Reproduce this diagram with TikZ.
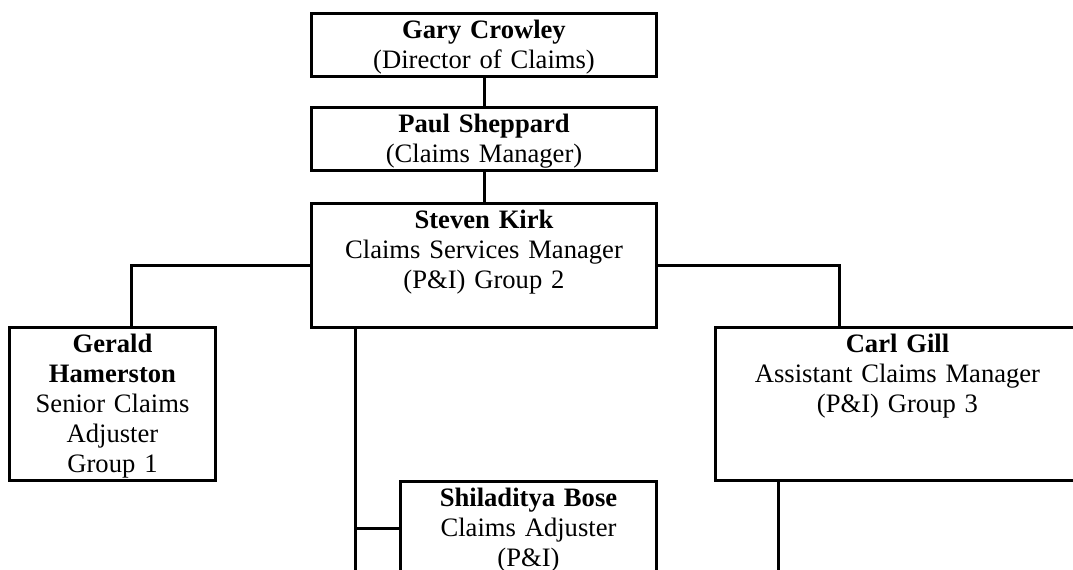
\documentclass[tikz,border=0pt]{standalone}
\usepackage{fontspec}
\setmainfont{Liberation Serif}[WordSpace=0.8]
\usepackage{tikz}
\usetikzlibrary{calc}
\tikzset{
	orgbox/.style={draw, line width=1.5pt, align=center, anchor=north west,
		inner xsep=0pt, inner ysep=0pt, text height=12.5pt,
		font=\fontsize{13.3}{15}\selectfont},
	link/.style={line width=1.5pt}
}

\begin{document}
\begin{tikzpicture}[x=0.5pt, y=-0.5pt]
			% page frame
			\useasboundingbox (0,0) rectangle (1073,569);
			\clip (0,0) rectangle (1073,569);
			% top of the chart
			\node[orgbox, text width=172.5pt, text depth=19pt] (gary) at (310,12) {\textbf{Gary Crowley}\\(Director of Claims)};
			\node[orgbox, text width=172.5pt, text depth=19pt] (paul) at (310,106) {\textbf{Paul Sheppard}\\(Claims Manager)};
			\node[orgbox, text width=172.5pt, text depth=49.5pt] (steven) at (310,202) {\textbf{Steven Kirk}\\Claims Services Manager\\(P\&I) Group 2};
			% groups
			\node[orgbox, text width=103pt, text depth=64pt] (gerald) at (8,326) {\textbf{Gerald}\\\textbf{Hamerston}\\Senior Claims\\Adjuster\\Group 1};
			\node[orgbox, text width=182pt, text depth=64pt] (carl) at (714,326) {\textbf{Carl Gill}\\Assistant Claims Manager\\(P\&I) Group 3};
			\node[orgbox, text width=128pt, text depth=60pt] (bose) at (399,480) {\textbf{Shiladitya Bose}\\Claims Adjuster\\(P\&I)};
			% connectors
			\draw[link] (gary.south) -- (paul.north);
			\draw[link] (paul.south) -- (steven.north);
			\draw[link] (steven.west) -| ([xshift=9.5pt]gerald.north);
			\draw[link] (steven.east) -| ([xshift=-29pt]carl.north);
			\coordinate (trunk) at ([xshift=22.5pt]steven.south west);
			\coordinate (bj) at ([yshift=-24pt]bose.north west);
			\draw[link] (trunk) -- ++(0,280);
			\draw[link] (bj) -- (bj -| trunk);
			\draw[link] ([xshift=32pt]carl.south west) -- ++(0,120);
		\end{tikzpicture}
\end{document}
